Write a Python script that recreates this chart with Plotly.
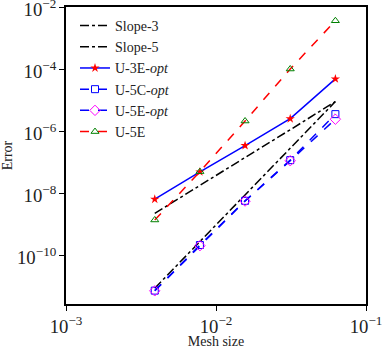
import plotly.graph_objects as go

# mesh sizes h = 1/256 ... 1/16
mesh = [1/256, 1/128, 1/64, 1/32, 1/16]

slope3 = [2.2e-9, 1.7e-8, 1.4e-7, 1.1e-6, 8.9e-6]
slope5 = [8.5e-12, 2.7e-10, 8.7e-9, 2.8e-7, 8.9e-6]
u3e_opt = [6.3e-9, 4.8e-8, 3.4e-7, 2.5e-6, 4.8e-5]
u5c_opt = [7.1e-12, 2.1e-10, 5.6e-9, 1.15e-7, 3.5e-6]
u5e_opt = [7.0e-12, 2.0e-10, 5.5e-9, 1.1e-7, 2.4e-6]
u5e = [1.35e-9, 4.9e-8, 2.1e-6, 1.0e-4, 3.6e-3]

serif = 'Liberation Serif'

traces = [
    go.Scatter(x=mesh, y=slope3, name='Slope-3', mode='lines',
               line=dict(color='black', dash='dashdot', width=1.5)),
    go.Scatter(x=mesh, y=slope5, name='Slope-5', mode='lines',
               line=dict(color='black', dash='dashdot', width=1.5)),
    go.Scatter(x=mesh, y=u3e_opt, name='U-3E-<i>opt</i>', mode='lines+markers',
               line=dict(color='#0000ff', width=1.5),
               marker=dict(symbol='star', color='#ff0000', size=7)),
    go.Scatter(x=mesh, y=u5c_opt, name='U-5C-<i>opt</i>', mode='lines+markers',
               line=dict(color='#0000ff', dash='dash', width=1.5),
               marker=dict(symbol='square-open', color='#0000ff', size=7)),
    go.Scatter(x=mesh, y=u5e_opt, name='U-5E-<i>opt</i>', mode='lines+markers',
               line=dict(color='#0000ff', dash='dash', width=1.5),
               marker=dict(symbol='diamond-open', color='#ff00ff', size=8)),
    go.Scatter(x=mesh, y=u5e, name='U-5E', mode='lines+markers',
               line=dict(color='#ff0000', dash='dash', width=1.5),
               marker=dict(symbol='triangle-up-open', color='#008000', size=7)),
]

layout = go.Layout(
    width=382, height=349,
    margin=dict(l=66, r=16, t=7, b=45),
    paper_bgcolor='white', plot_bgcolor='white',
    font=dict(family=serif, size=14, color='#222'),
    showlegend=True,
    legend=dict(x=0.03, y=0.99, xanchor='left', yanchor='top',
                bgcolor='rgba(0,0,0,0)', font=dict(size=14),
                itemwidth=30),
    xaxis=dict(
        type='log', range=[-3, -1],
        title=dict(text='Mesh size', font=dict(size=14)),
        exponentformat='power', dtick=1, automargin=False,
        ticklabeloverflow='allow',
        showgrid=False, zeroline=False,
        showline=True, linecolor='black', linewidth=1.5, mirror=True,
        ticks='outside', ticklen=5, tickcolor='black',
        tickfont=dict(size=15),
    ),
    yaxis=dict(
        type='log', range=[-11.58, -2],
        title=dict(text='Error', font=dict(size=14)),
        exponentformat='power', dtick=2, automargin=False,
        ticklabeloverflow='allow', ticklabelshift=2,
        showgrid=False, zeroline=False,
        showline=True, linecolor='black', linewidth=1.5, mirror=True,
        ticks='outside', ticklen=5, tickcolor='black',
        tickfont=dict(size=15),
    ),
)

fig = go.Figure(data=traces, layout=layout)
# drop the default 8px body margin so the figure sits at the page corner
fig.write_html('out.html', config={'displayModeBar': False},
               post_script="document.body.style.margin='0';")
